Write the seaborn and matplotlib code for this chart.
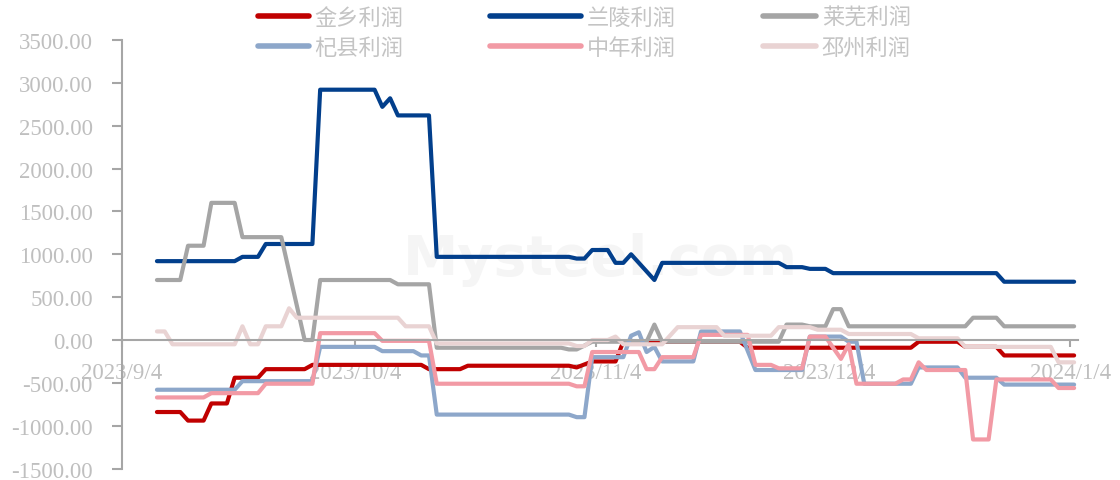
import numpy as np
import pandas as pd
import seaborn as sns
import matplotlib
import matplotlib.pyplot as plt
import matplotlib.dates as mdates
from matplotlib.lines import Line2D
from matplotlib.ticker import FuncFormatter

matplotlib.use('Agg')

series_names = ['金乡利润', '兰陵利润', '莱芜利润', '杞县利润', '中年利润', '邳州利润']
series_colors = ['#C00000', '#023F8C', '#A5A5A5', '#8DA7CA', '#F29AA5', '#E9D3D3']

jinxiang_dates = ['2023-09-08', '2023-09-11', '2023-09-12', '2023-09-14', '2023-09-15', '2023-09-17',
                  '2023-09-18', '2023-09-21', '2023-09-22', '2023-09-27', '2023-09-28', '2023-10-12',
                  '2023-10-13', '2023-10-17', '2023-10-18', '2023-10-31', '2023-11-01', '2023-11-03',
                  '2023-11-06', '2023-11-07', '2023-11-22', '2023-11-23', '2023-12-14', '2023-12-15',
                  '2023-12-20', '2023-12-21', '2023-12-25', '2023-12-26', '2024-01-04']
jinxiang_vals = [-840, -840, -940, -940, -740, -740, -440, -440, -340, -340, -290, -290, -340, -340,
                 -300, -300, -320, -250, -250, -20, -20, -90, -90, -20, -20, -80, -80, -180, -180]

lanling_dates = ['2023-09-08', '2023-09-18', '2023-09-19', '2023-09-21', '2023-09-22', '2023-09-28',
                 '2023-09-29', '2023-10-06', '2023-10-07', '2023-10-08', '2023-10-09', '2023-10-13',
                 '2023-10-14', '2023-10-31', '2023-11-01', '2023-11-02', '2023-11-03', '2023-11-05',
                 '2023-11-06', '2023-11-07', '2023-11-08', '2023-11-11', '2023-11-12', '2023-11-27',
                 '2023-11-28', '2023-11-30', '2023-12-01', '2023-12-03', '2023-12-04', '2023-12-25',
                 '2023-12-26', '2024-01-04']
lanling_vals = [920, 920, 970, 970, 1120, 1120, 2920, 2920, 2720, 2820, 2620, 2620, 970, 970, 950, 950,
                1050, 1050, 900, 900, 1000, 700, 900, 900, 850, 850, 830, 830, 780, 780, 680, 680]

laiwu_dates = ['2023-09-08', '2023-09-11', '2023-09-12', '2023-09-14', '2023-09-15', '2023-09-18',
               '2023-09-19', '2023-09-24', '2023-09-27', '2023-09-28', '2023-09-29', '2023-10-08',
               '2023-10-09', '2023-10-13', '2023-10-14', '2023-10-30', '2023-10-31', '2023-11-01',
               '2023-11-03', '2023-11-10', '2023-11-11', '2023-11-12', '2023-11-27', '2023-11-28',
               '2023-11-30', '2023-12-01', '2023-12-03', '2023-12-04', '2023-12-05', '2023-12-06',
               '2023-12-21', '2023-12-22', '2023-12-25', '2023-12-26', '2024-01-04']
laiwu_vals = [700, 700, 1100, 1100, 1600, 1600, 1200, 1200, 0, 0, 700, 700, 650, 650, -90, -90, -110,
              -110, -20, -20, 180, -20, -20, 180, 180, 160, 160, 360, 360, 160, 160, 260, 260, 160, 160]

qixian_dates = ['2023-09-08', '2023-09-18', '2023-09-19', '2023-09-28', '2023-09-29', '2023-10-06',
                '2023-10-07', '2023-10-11', '2023-10-12', '2023-10-13', '2023-10-14', '2023-10-31',
                '2023-11-01', '2023-11-02', '2023-11-03', '2023-11-07', '2023-11-08', '2023-11-09',
                '2023-11-10', '2023-11-11', '2023-11-12', '2023-11-16', '2023-11-17', '2023-11-22',
                '2023-11-24', '2023-11-30', '2023-12-01', '2023-12-05', '2023-12-06', '2023-12-07',
                '2023-12-08', '2023-12-14', '2023-12-15', '2023-12-20', '2023-12-21', '2023-12-25',
                '2023-12-26', '2024-01-04']
qixian_vals = [-580, -580, -480, -480, -80, -80, -130, -130, -180, -180, -870, -870, -900, -900, -200,
               -200, 50, 90, -140, -80, -250, -250, 100, 100, -350, -350, 40, 40, -20, -20, -510, -510,
               -320, -320, -440, -440, -520, -520]

zhongnian_dates = ['2023-09-08', '2023-09-14', '2023-09-15', '2023-09-21', '2023-09-22', '2023-09-28',
                   '2023-09-29', '2023-10-06', '2023-10-07', '2023-10-13', '2023-10-14', '2023-10-31',
                   '2023-11-01', '2023-11-02', '2023-11-03', '2023-11-09', '2023-11-10', '2023-11-11',
                   '2023-11-12', '2023-11-16', '2023-11-17', '2023-11-23', '2023-11-24', '2023-11-26',
                   '2023-11-27', '2023-11-30', '2023-12-01', '2023-12-03', '2023-12-05', '2023-12-06',
                   '2023-12-07', '2023-12-12', '2023-12-13', '2023-12-14', '2023-12-15', '2023-12-16',
                   '2023-12-21', '2023-12-22', '2023-12-24', '2023-12-25', '2024-01-01', '2024-01-02',
                   '2024-01-04']
zhongnian_vals = [-670, -670, -620, -620, -510, -510, 80, 80, -10, -10, -510, -510, -540, -540, -140,
                  -140, -340, -340, -200, -200, 60, 60, -290, -290, -330, -330, 40, 40, -220, -50,
                  -510, -510, -460, -460, -260, -350, -350, -1160, -1160, -460, -460, -560, -560]

pizhou_dates = ['2023-09-08', '2023-09-09', '2023-09-10', '2023-09-18', '2023-09-19', '2023-09-20',
                '2023-09-21', '2023-09-22', '2023-09-24', '2023-09-25', '2023-09-26', '2023-10-09',
                '2023-10-10', '2023-10-13', '2023-10-14', '2023-10-31', '2023-11-01', '2023-11-02',
                '2023-11-03', '2023-11-05', '2023-11-06', '2023-11-07', '2023-11-12', '2023-11-14',
                '2023-11-19', '2023-11-20', '2023-11-26', '2023-11-27', '2023-12-01', '2023-12-02',
                '2023-12-05', '2023-12-06', '2023-12-14', '2023-12-15', '2023-12-20', '2023-12-21',
                '2024-01-01', '2024-01-02', '2024-01-04']
pizhou_vals = [100, 100, -50, -50, 160, -50, -50, 160, 160, 370, 260, 260, 160, 160, -40, -40, -70, -70,
               0, 0, 40, -50, -50, 150, 150, 50, 50, 150, 150, 120, 120, 70, 70, 20, 20, -80, -80,
               -260, -260]

y_ticks = [-1500, -1000, -500, 0, 500, 1000, 1500, 2000, 2500, 3000, 3500]

all_dates = [jinxiang_dates, lanling_dates, laiwu_dates, qixian_dates, zhongnian_dates, pizhou_dates]
all_vals = [jinxiang_vals, lanling_vals, laiwu_vals, qixian_vals, zhongnian_vals, pizhou_vals]

frames = []
for name, d, v in zip(series_names, all_dates, all_vals):
    frames.append(pd.DataFrame({'date': pd.to_datetime(d), 'value': v, 'series': name}))
df = pd.concat(frames, ignore_index=True)
# excel style date axis: points sit in the middle of each day slot
df['x'] = df['date'] + pd.Timedelta(hours=12)

sns.set_theme(style='white')
plt.rcParams['font.family'] = ['Liberation Serif', 'Noto Sans CJK SC', 'DejaVu Sans']

grey = '#A6A6A6'
txt = '#BFBFBF'

fig = plt.figure(figsize=(11.2, 4.81), dpi=100)
ax = fig.add_axes([0.1089, 0.0237, 0.8536, 0.8911])

# faint watermark
ax.text(0.5, 0.49, 'Mysteel.com', transform=ax.transAxes, ha='center', va='center',
        fontsize=40, color='#F5F5F5', family='DejaVu Sans', fontweight='bold', zorder=0)

sns.lineplot(data=df, x='x', y='value', hue='series', hue_order=series_names,
             palette=series_colors, linewidth=3, estimator=None, sort=False,
             legend=False, ax=ax)

ax.set_xlim(pd.Timestamp('2023-09-04'), pd.Timestamp('2024-01-05'))
ax.set_ylim(-1500, 3500)
ax.set_yticks(y_ticks)
ax.yaxis.set_major_formatter(FuncFormatter(lambda v, p: '%.2f' % v))
ax.xaxis.set_major_locator(mdates.MonthLocator(bymonthday=4))


def fmt_date(v, p):
    d = mdates.num2date(v)
    return '%d/%d/%d' % (d.year, d.month, d.day)


ax.xaxis.set_major_formatter(FuncFormatter(fmt_date))
ax.set_xlabel('')
ax.set_ylabel('')

for s in ['top', 'right']:
    ax.spines[s].set_visible(False)
ax.spines['bottom'].set_position(('data', 0))
for s in ['left', 'bottom']:
    ax.spines[s].set_color(grey)
    ax.spines[s].set_linewidth(1.5)

ax.tick_params(axis='y', direction='out', length=7, width=1.5, color=grey,
               labelcolor=txt, labelsize=16.5, pad=14, left=True)
ax.tick_params(axis='x', direction='out', length=5, width=1.5, color=grey,
               labelcolor=txt, labelsize=16.5, pad=11, bottom=True)

# legend: three columns placed like the original
cols = [(0, 3), (1, 4), (2, 5)]
x_pos = [258, 490, 763]
h_len = [2.3, 4.1, 2.4]
for (a, b), xp, hl in zip(cols, x_pos, h_len):
    handles = [Line2D([], [], color=series_colors[i], lw=4) for i in (a, b)]
    labels = [series_names[a], series_names[b]]
    leg = fig.legend(handles, labels, loc='upper left', bbox_to_anchor=(xp / 1120, 1 - 7 / 481),
                     frameon=False, handlelength=hl, handletextpad=0.25, labelspacing=0.3,
                     borderpad=0, borderaxespad=0,
                     prop={'family': 'Noto Sans CJK SC', 'size': 16})
    for t in leg.get_texts():
        t.set_color('#C4C4C4')

fig.savefig('out.png', dpi=100)
